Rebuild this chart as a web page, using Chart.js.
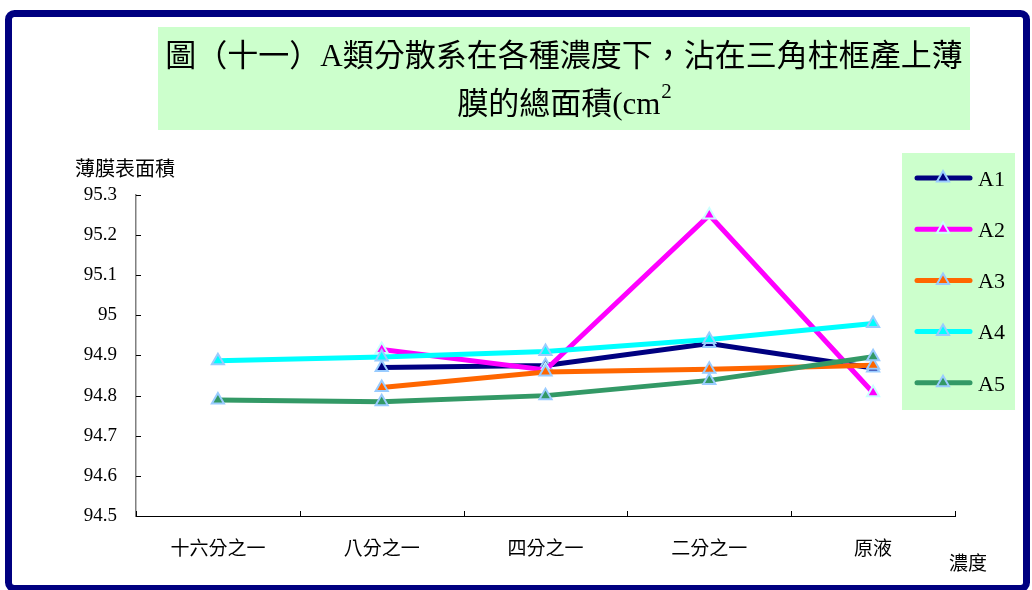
<!DOCTYPE html>
<html>
<head>
<meta charset="utf-8">
<script src="https://cdn.jsdelivr.net/npm/chart.js@4/dist/chart.umd.min.js"></script>
<style>
  html, body { margin: 0; padding: 0; background: #fff; }
  #wrap { position: relative; width: 1032px; height: 590px; }
</style>
</head>
<body>
<div id="wrap"><canvas id="c" width="1032" height="590"></canvas></div>
<script>
// Concentration levels along the x axis
const categories = ['十六分之一', '八分之一', '四分之一', '二分之一', '原液'];

// Total film area for each dispersion (cm²)
const a1 = [null, 94.87, 94.875, 94.93, 94.869];
const a2 = [null, 94.915, 94.864, 95.25, 94.807];
const a3 = [null, 94.82, 94.859, 94.866, 94.876];
const a4 = [94.887, 94.896, 94.91, 94.94, 94.98];
const a5 = [94.789, 94.785, 94.80, 94.838, 94.897];

const seriesNames = ['A1', 'A2', 'A3', 'A4', 'A5'];
const seriesData = [a1, a2, a3, a4, a5];
const seriesColors = ['#000080', '#ff00ff', '#ff6600', '#00ffff', '#339966'];
const markerBorders = ['#99ccff', '#ccffff', '#99ccff', '#99ccff', '#99ccff'];

const yTicks = [94.5, 94.6, 94.7, 94.8, 94.9, 95, 95.1, 95.2, 95.3];

const titleLine1 = '圖（十一）A類分散系在各種濃度下，沾在三角柱框產上薄';
const titleLine2 = '膜的總面積(cm';
const titleSup = '2';
const yAxisTitle = '薄膜表面積';
const xAxisTitle = '濃度';

const FONT = '"Liberation Serif", "Noto Sans CJK TC", serif';

function triangle(ctx, x, y, r, fill, stroke, lw) {
  ctx.save();
  ctx.beginPath();
  for (let k = 0; k < 3; k++) {
    const a = k * 2 * Math.PI / 3;
    const px = x + Math.sin(a) * r, py = y - Math.cos(a) * r;
    if (k === 0) ctx.moveTo(px, py); else ctx.lineTo(px, py);
  }
  ctx.closePath();
  ctx.fillStyle = fill;
  ctx.fill();
  ctx.lineWidth = lw;
  ctx.strokeStyle = stroke;
  ctx.stroke();
  ctx.restore();
}

// Frame, title panel, legend panel, axis titles and inward tick marks
const decor = {
  id: 'decor',
  beforeDraw(chart) {
    const ctx = chart.ctx;
    ctx.save();
    // outer frame
    ctx.strokeStyle = '#000080';
    ctx.lineWidth = 7;
    ctx.beginPath();
    ctx.roundRect(8.5, 13.5, 1018, 575, 6);
    ctx.stroke();
    // title panel
    ctx.fillStyle = '#ccffcc';
    ctx.fillRect(158, 27, 812, 103);
    // legend panel
    ctx.fillRect(902, 153, 113, 257);

    ctx.fillStyle = '#000';
    ctx.textBaseline = 'middle';
    ctx.textAlign = 'center';
    ctx.font = '31px ' + FONT;
    ctx.fillText(titleLine1, 564, 58);
    // second line with superscript
    ctx.textAlign = 'left';
    const w1 = ctx.measureText(titleLine2).width;
    ctx.font = '21px ' + FONT;
    const w2 = ctx.measureText(titleSup).width;
    const x0 = 564 - (w1 + w2) / 2;
    ctx.font = '31px ' + FONT;
    ctx.fillText(titleLine2, x0, 106);
    ctx.font = '21px ' + FONT;
    ctx.fillText(titleSup, x0 + w1 + 1, 92);

    // axis titles
    ctx.font = '20px ' + FONT;
    ctx.fillText(yAxisTitle, 75, 171);
    ctx.font = '19px ' + FONT;
    ctx.fillText(xAxisTitle, 949, 565);
    ctx.restore();
  },
  afterDraw(chart) {
    const ctx = chart.ctx;
    const area = chart.chartArea;
    const xs = chart.scales.x, ys = chart.scales.y;
    ctx.save();
    ctx.lineWidth = 1;
    ctx.strokeStyle = '#000';
    // y tick marks pointing into the plot
    ys.ticks.forEach((t, i) => {
      const py = Math.round(ys.getPixelForTick(i)) + 0.5;
      ctx.beginPath();
      ctx.moveTo(area.left, py);
      ctx.lineTo(area.left + 5, py);
      ctx.stroke();
    });
    // x tick marks at category boundaries
    const n = categories.length;
    for (let i = 0; i <= n; i++) {
      const px = Math.round(area.left + (area.right - area.left) * i / n) + 0.5;
      ctx.beginPath();
      ctx.moveTo(px, area.bottom);
      ctx.lineTo(px, area.bottom - 5);
      ctx.stroke();
    }
    // legend entries
    ctx.font = '22px ' + FONT;
    ctx.textBaseline = 'middle';
    ctx.textAlign = 'left';
    seriesNames.forEach((name, i) => {
      const y = 178 + i * 51.2;
      ctx.strokeStyle = seriesColors[i];
      ctx.lineWidth = 5;
      ctx.lineCap = 'round';
      ctx.beginPath();
      ctx.moveTo(917, y);
      ctx.lineTo(970, y);
      ctx.stroke();
      triangle(ctx, 943, y, 7, seriesColors[i], markerBorders[i], 2);
      ctx.fillStyle = '#000';
      ctx.fillText(name, 978, y + 2);
    });
    ctx.restore();
  }
};

new Chart(document.getElementById('c'), {
  type: 'line',
  data: {
    labels: categories,
    datasets: seriesNames.map((name, i) => ({
      label: name,
      data: seriesData[i],
      borderColor: seriesColors[i],
      backgroundColor: seriesColors[i],
      borderWidth: 5,
      tension: 0,
      pointStyle: 'triangle',
      pointRadius: 7,
      pointHoverRadius: 7,
      pointBorderWidth: 2,
      pointBorderColor: markerBorders[i],
      pointBackgroundColor: seriesColors[i],
      order: seriesNames.length - 1 - i,
      clip: false
    }))
  },
  options: {
    responsive: false,
    animation: false,
    devicePixelRatio: 1,
    layout: { padding: { left: 36, top: 195, right: 77, bottom: 14 } },
    plugins: {
      legend: { display: false },
      tooltip: { enabled: false },
      title: { display: false }
    },
    scales: {
      x: {
        type: 'category',
        offset: true,
        grid: { display: false, drawTicks: false },
        border: { display: true, color: '#000', width: 1 },
        ticks: {
          color: '#000',
          font: { family: FONT, size: 19 },
          padding: 23,
          maxRotation: 0,
          autoSkip: false
        },
        afterFit(s) { s.height = 60; }
      },
      y: {
        min: 94.5,
        max: 95.3,
        grid: { display: false, drawTicks: false },
        border: { display: true, color: '#808080', width: 1.5 },
        ticks: {
          color: '#000',
          font: { family: FONT, size: 19 },
          padding: 19,
          callback: v => String(Number(Number(v).toFixed(1)))
        },
        afterBuildTicks(s) { s.ticks = yTicks.map(v => ({ value: v })); },
        afterFit(s) { s.width = 100; }
      }
    }
  },
  plugins: [decor]
});
</script>
</body>
</html>
